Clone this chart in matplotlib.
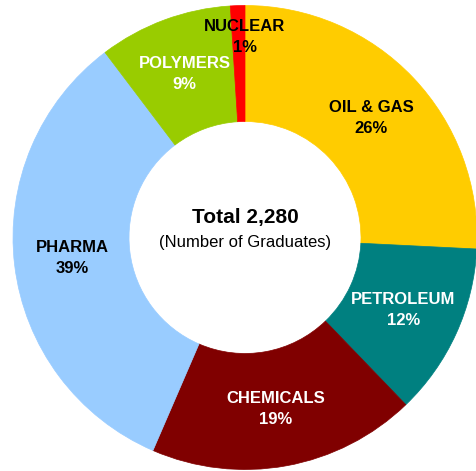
import matplotlib.pyplot as plt
import numpy as np

plt.rcParams['font.family'] = ['Liberation Sans', 'DejaVu Sans']

# graduates per field (slice sizes), clockwise from 12 o'clock
fields = ['OIL & GAS', 'PETROLEUM', 'CHEMICALS', 'PHARMA', 'POLYMERS', 'NUCLEAR']
graduates = [588, 274, 426, 757, 212, 23]
pct_labels = ['26%', '12%', '19%', '39%', '9%', '1%']
colors = ['#FFCC00', '#008080', '#800000', '#99CCFF', '#99CC00', '#FF0000']
text_colors = ['black', 'white', 'white', 'black', 'white', 'black']
total = 2280

fig = plt.figure(figsize=(4.77, 4.71), dpi=100)
ax = fig.add_axes([0, 0, 1, 1])

wedges, _ = ax.pie(graduates, colors=colors, startangle=90, counterclock=False,
                   wedgeprops=dict(width=0.5, linewidth=0))
for w in wedges:
    w.set_edgecolor(w.get_facecolor())
    w.set_linewidth(0.5)

for w, name, pct, tc in zip(wedges, fields, pct_labels, text_colors):
    mid = np.deg2rad((w.theta1 + w.theta2) / 2)
    r = 0.75
    x, y = r * np.cos(mid), r * np.sin(mid)
    if name == 'NUCLEAR':
        x, y = 0, 0.865
    ax.text(x, y, name + '\n' + pct, ha='center', va='center', fontsize=12,
            fontweight='bold', color=tc, linespacing=1.5)

ax.text(0, 0.085, 'Total {:,}'.format(total), ha='center', va='center',
        fontsize=15, fontweight='bold')
ax.text(0, -0.02, '(Number of Graduates)', ha='center', va='center', fontsize=12)

ax.set_aspect('auto')
ax.set_xlim(-245 / 232, 232 / 232)
ax.set_ylim(-233.5 / 232, 237.5 / 232)
ax.axis('off')

fig.savefig('out.png', dpi=100)
